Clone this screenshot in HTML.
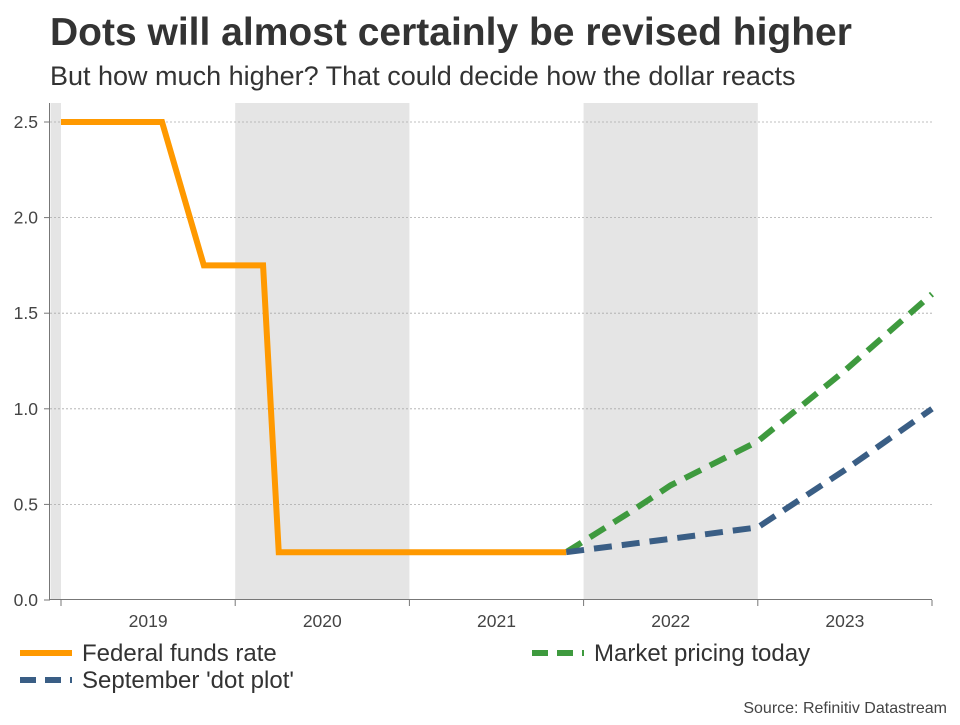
<!DOCTYPE html>
<html><head><meta charset="utf-8"><style>
body{margin:0;background:#fff;font-family:"Liberation Sans",sans-serif}
</style></head><body>
<svg width="960" height="720" viewBox="0 0 960 720" xmlns="http://www.w3.org/2000/svg" font-family="Liberation Sans, sans-serif">
<text x="50" y="45" font-size="39" font-weight="bold" fill="#333">Dots will almost certainly be revised higher</text>
<text x="50" y="85" font-size="27" fill="#333">But how much higher? That could decide how the dollar reacts</text>
<g id="bands"></g>
<g id="grid"></g>
<g id="series"></g>
<line x1="49.5" y1="103" x2="49.5" y2="600" stroke="#777"/>
<line x1="49.5" y1="599.5" x2="932" y2="599.5" stroke="#777"/>
<g id="axes"></g>
<g>
<line x1="20" y1="653" x2="72" y2="653" stroke="#ff9900" stroke-width="6"/>
<text x="82" y="661" font-size="24" fill="#333">Federal funds rate</text>
<line x1="532" y1="653" x2="584" y2="653" stroke="#3e9a3e" stroke-width="6" stroke-dasharray="16,9"/>
<text x="594" y="661" font-size="24" fill="#333">Market pricing today</text>
<line x1="20" y1="680" x2="72" y2="680" stroke="#3a5e85" stroke-width="6" stroke-dasharray="16,9"/>
<text x="82" y="688" font-size="24" fill="#333">September 'dot plot'</text>
</g>
<text x="947" y="713" font-size="16" fill="#444" text-anchor="end">Source: Refinitiv Datastream</text>
</svg>
<script>
const yTicks=[0,0.5,1.0,1.5,2.0,2.5];
const years=[2019,2020,2021,2022,2023];
const shaded=[[2018.94,2019],[2020,2021],[2022,2023]];
const fedT=[2019,2019.58,2019.82,2020.16,2020.25,2021.9];
const fedV=[2.5,2.5,1.75,1.75,0.25,0.25];
const mktT=[2021.9,2022.25,2022.5,2023,2023.5,2024];
const mktV=[0.25,0.45,0.6,0.83,1.2,1.6];
const dotT=[2021.9,2022.5,2023,2023.5,2024];
const dotV=[0.25,0.32,0.38,0.68,1.0];
const NS="http://www.w3.org/2000/svg";
const x=t=>61+(t-2019)*174.2;
const y=v=>600-v*191.2;
function mk(tag,attrs,parent){const e=document.createElementNS(NS,tag);for(const k in attrs)e.setAttribute(k,attrs[k]);document.getElementById(parent).appendChild(e);return e;}
shaded.forEach(s=>{const r=mk('rect',{x:x(s[0]),y:103,width:x(s[1])-x(s[0]),height:497,fill:'#e5e5e5'},'bands');

});
yTicks.forEach(v=>{
 if(v>0){const g=mk('line',{x1:50,x2:932,y1:y(v),y2:y(v),stroke:'#aaa','stroke-dasharray':'2,2','stroke-width':0.8},'grid');
 
 }
 const tk=mk('line',{x1:44,x2:50,y1:y(v),y2:y(v),stroke:'#777'},'axes');
 
 
 const t=mk('text',{x:38,y:y(v)+6,'font-size':17.5,fill:'#444','text-anchor':'end'},'axes');t.textContent=v.toFixed(1);
 
 
});
years.concat([2024]).forEach(yr=>{const tk=mk('line',{x1:x(yr),x2:x(yr),y1:600,y2:606,stroke:'#777'},'axes');
 
 });
years.forEach(yr=>{const t=mk('text',{x:x(yr+0.5),y:627,'font-size':17.5,fill:'#444','text-anchor':'middle'},'axes');t.textContent=yr;
 
 });
function line(T,V,color,dash,name){const p=mk('polyline',{points:T.map((t,i)=>x(t)+','+y(V[i])).join(' '),fill:'none',stroke:color,'stroke-width':6,'stroke-linejoin':'miter'},'series');
 if(dash)p.setAttribute('stroke-dasharray',dash);
 
 }
line(mktT,mktV,'#3e9a3e','18,10','market-pricing-line');
line(dotT,dotV,'#3a5e85','18,10','dot-plot-line');
line(fedT,fedV,'#ff9900',null,'fed-funds-line');
</script>
</body></html>
